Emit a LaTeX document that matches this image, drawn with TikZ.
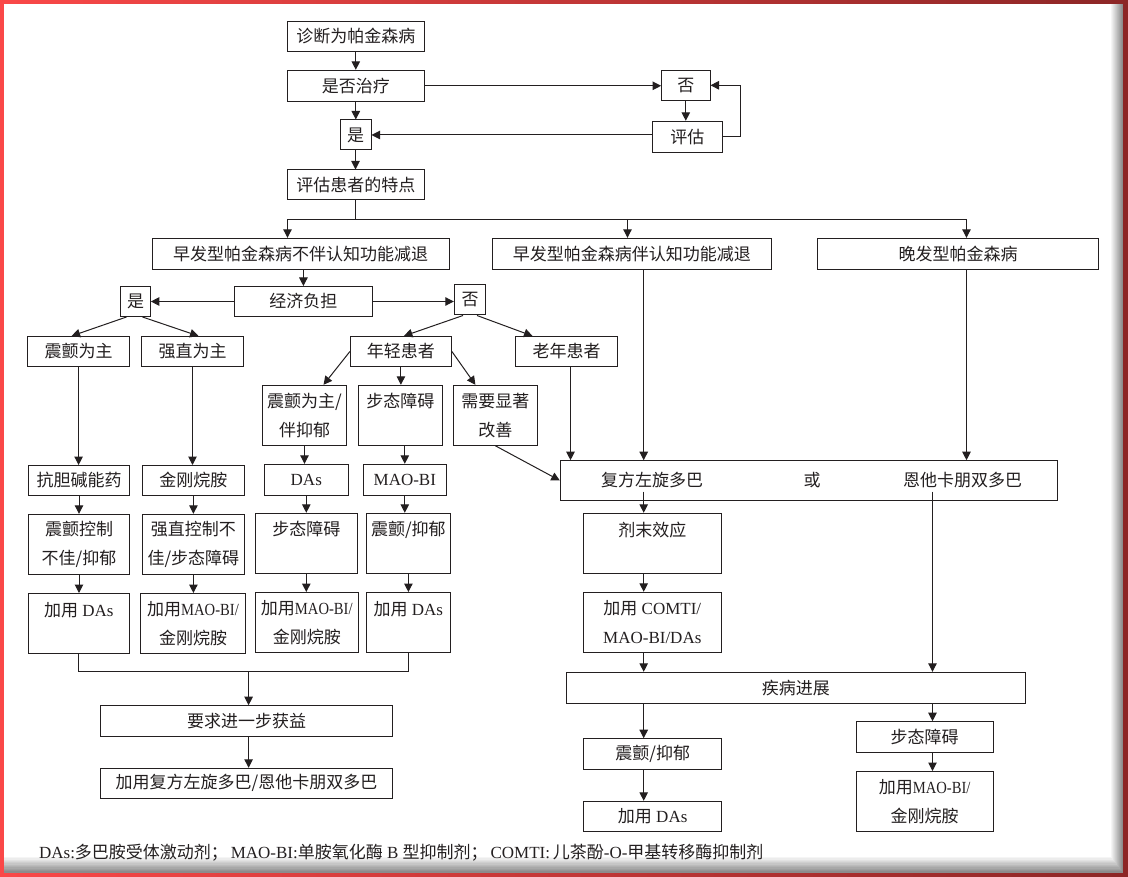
\documentclass[tikz,border=0pt]{standalone}
\usepackage{graphicx}
\usepackage{fontspec}
\setmainfont{Liberation Serif}
\newfontfamily\cjk{Noto Sans CJK SC}
\usetikzlibrary{arrows.meta}
\tikzset{>={Triangle[length=8.5pt,width=8.5pt]}}
\newcommand{\lat}[1]{{\rmfamily #1}}
\newcommand{\latn}[1]{\scalebox{0.86}[1]{\rmfamily #1}}
\definecolor{ink}{RGB}{35,31,32}
\definecolor{frameL}{RGB}{250,72,72}
\definecolor{frameR}{RGB}{140,38,38}

\begin{document}
\begin{tikzpicture}[x=1pt, y=-1pt, line width=1pt, color=ink,
  font=\cjk\fontsize{17}{29}\selectfont,
  box/.style={draw, align=center, inner sep=0pt, minimum height=30},
  tall/.style={box, minimum height=60}]
\useasboundingbox (0,0) rectangle (1128,877);
\shade[left color=frameL, right color=frameR] (0,0) rectangle (1128,877);
\foreach \k in {0,...,12}{
  \pgfmathtruncatemacro\w{10+\k*90/12}
  \fill[white!\w!gray] (4,4) rectangle (1123-\k,872.5-1.3*\k);
}

\node[box, minimum width=136.5] (diag) at (355.8,36.5) {诊断为帕金森病};
\node[box, minimum width=136.5, minimum height=31] (treat) at (355.8,85.8) {是否治疗};
\node[box, minimum width=31] (yes1) at (355.5,135) {是};
\node[box, minimum width=48.4] (no1) at (685.8,85.3) {否};
\node[box, minimum width=69.4, minimum height=31] (eval) at (687.3,136.8) {评估};
\node[box, minimum width=136.5] (feat) at (355.8,185) {评估患者的特点};
\node[box, minimum width=297, minimum height=31] (early) at (300.5,253.8) {早发型帕金森病不伴认知功能减退};
\node[box, minimum width=279.6, minimum height=31] (earlycog) at (631.8,253.8) {早发型帕金森病伴认知功能减退};
\node[box, minimum width=281, minimum height=31] (late) at (958.2,253.8) {晚发型帕金森病};
\node[box, minimum width=138.2] (cost) at (303.4,301.5) {经济负担};
\node[box, minimum width=29.7] (yes2) at (135.5,301.5) {是};
\node[box, minimum width=31.4] (no2) at (470,300) {否};
\node[box, minimum width=101.4] (tremor) at (78.6,351.5) {震颤为主};
\node[box, minimum width=101.4] (rigid) at (192.5,351.5) {强直为主};
\node[box, minimum width=101] (young) at (400.9,351.5) {年轻患者};
\node[box, minimum width=101.6] (old) at (566.5,351.5) {老年患者};
\node[tall, minimum width=84] (ytrem) at (304.5,415.3) {震颤为主/\\伴抑郁};
\node[tall, minimum width=84.3] (ygait) at (400.4,415.3) {步态障碍\\\mbox{}};
\node[tall, minimum width=84.3] (yneed) at (495.4,415.3) {需要显著\\改善};
\node[box, minimum width=101] (anti) at (79,480.5) {抗胆碱能药};
\node[box, minimum width=101.8] (aman) at (193.4,480.5) {金刚烷胺};
\node[box, minimum width=84, minimum height=31] (das) at (306.3,479.8) {\lat{DAs}};
\node[box, minimum width=83.2, minimum height=31] (mao) at (404.8,479.8) {\lat{MAO-BI}};
\node[tall, minimum width=101] (tctrl) at (79,544.3) {震颤控制\\不佳/抑郁};
\node[tall, minimum width=101.8] (rctrl) at (193.4,544.3) {强直控制不\\佳/步态障碍};
\node[tall, minimum width=101.7] (ygait2) at (306.3,543.3) {步态障碍\\\mbox{}};
\node[tall, minimum width=84] (ytrem2) at (408.4,543.3) {震颤/抑郁\\\mbox{}};
\node[tall, minimum width=101] (addda1) at (78.8,623.5) {加用\lat{ DAs}\\\mbox{}};
\node[tall, minimum width=105.3] (addmao1) at (193,623.5) {加用\latn{MAO-BI/}\\金刚烷胺};
\node[tall, minimum width=102.8] (addmao2) at (306.8,622.5) {加用\latn{MAO-BI/}\\金刚烷胺};
\node[tall, minimum width=84] (addda2) at (408.4,622.5) {加用\lat{ DAs}\\\mbox{}};
\node[box, minimum width=292, minimum height=30.6] (more) at (246.5,721) {要求进一步获益};
\node[box, minimum width=292] (ldopa) at (246.5,783.3) {加用复方左旋多巴/恩他卡朋双多巴};
\node[box, minimum width=497.4, minimum height=39.6] (big) at (809,480.5) {};
\node (opt1) at (652,480) {复方左旋多巴};
\node (optor) at (812,480) {或};
\node (opt2) at (962.6,480) {恩他卡朋双多巴};
\node[tall, minimum width=137.4] (wear) at (652.3,543.3) {剂末效应\\\mbox{}};
\node[tall, minimum width=137.4] (comt) at (652.3,622.3) {加用\lat{ COMTI/}\\\lat{MAO-BI/DAs}};
\node[box, minimum width=459, minimum height=31] (prog) at (795.9,687.8) {疾病进展};
\node[box, minimum width=138.2, minimum height=30.6] (ptrem) at (652.7,754) {震颤/抑郁};
\node[box, minimum width=138.2] (pdas) at (652.7,816.3) {加用\lat{ DAs}};
\node[box, minimum width=137.4, minimum height=30.6] (pgait) at (924.7,737) {步态障碍};
\node[tall, minimum width=137.4] (pmao) at (924.7,801.5) {加用\latn{MAO-BI/}\\金刚烷胺};
\node[anchor=west, inner sep=0pt] (note) at (38.6,853) {\lat{DAs:}多巴胺受体激动剂；\lat{\,MAO-BI:}单胺氧化酶\lat{ B }型抑制剂；\lat{\,COMTI:\,}儿茶酚\lat{-O-}甲基转移酶抑制剂};

\coordinate (busL) at (287.5,219.3);
\coordinate (busM) at (627.5,219.3);
\coordinate (busR) at (966.5,219.3);
\coordinate (colB) at (643.7,0);
\coordinate (colC) at (932.5,0);
\coordinate (join) at (248.6,671);

\draw[->] (diag) -- (treat);
\draw[->] (treat.south) -- (treat.south |- yes1.north);
\draw[->] (yes1) -- (yes1 |- feat.north);
\draw[->] (treat.east) -- (treat.east -| no1.west);
\draw[->] (no1) -- (no1 |- eval.north);
\draw[->] (eval.east) -- ++(17.7,0) |- (no1.east);
\draw[->] (eval.west |- yes1) -- (yes1.east);
\draw (feat.south) -- (feat.south |- busL);
\draw (busL) -- (busR);
\draw[->] (busL) -- (busL |- early.north);
\draw[->] (busM) -- (busM |- earlycog.north);
\draw[->] (busR) -- (busR |- late.north);
\draw[->] (early.south -| cost) -- (cost.north);
\draw[->] (cost.west) -- (yes2.east);
\draw[->] (cost.east) -- (cost.east -| no2.west);
\draw[->] ([xshift=-9]yes2.south) -- ([xshift=-7]tremor.north);
\draw[->] ([xshift=7]yes2.south) -- ([xshift=6]rigid.north);
\draw[->] ([xshift=-7]no2.south) -- ([xshift=3]young.north);
\draw[->] ([xshift=7]no2.south) -- ([xshift=-34]old.north);
\draw[->] (young.west) -- ([xshift=19]ytrem.north);
\draw[->] (young.south) -- (young.south |- ygait.north);
\draw[->] (young.east) -- ([xshift=-20]yneed.north);
\draw[->] (yneed.south) -- (big.west);
\draw[->] ([xshift=4]old.south) -- ([xshift=4]old.south |- big.north);
\draw[->] (earlycog.south -| colB) -- (big.north -| colB);
\draw[->] (late.south -| busR) -- (big.north -| busR);
\draw[->] (ygait.south -| mao) -- (mao.north);
\foreach \a/\b in {tremor/anti, anti/tctrl, tctrl/addda1, rigid/aman, aman/rctrl, rctrl/addmao1,
  ytrem/das, das/ygait2, ygait2/addmao2, mao/ytrem2, ytrem2/addda2}
  \draw[->] (\a.south) -- (\a.south |- \b.north);
\draw (addda1.south) |- (addda2.south |- join) -- (addda2.south);
\draw[->] (join) -- (join |- more.north);
\draw[->] (more.south -| join) -- (ldopa.north -| join);
\draw[->] (opt1.south -| colB) -- (wear.north -| colB);
\draw[->] (wear.south -| colB) -- (comt.north -| colB);
\draw[->] (comt.south -| colB) -- (prog.north -| colB);
\draw[->] (prog.south -| colB) -- (ptrem.north -| colB);
\draw[->] (ptrem.south -| colB) -- (pdas.north -| colB);
\draw[->] (opt2.south -| colC) -- (prog.north -| colC);
\draw[->] (prog.south -| colC) -- (pgait.north -| colC);
\draw[->] (pgait.south -| colC) -- (pmao.north -| colC);
\end{tikzpicture}
\end{document}
